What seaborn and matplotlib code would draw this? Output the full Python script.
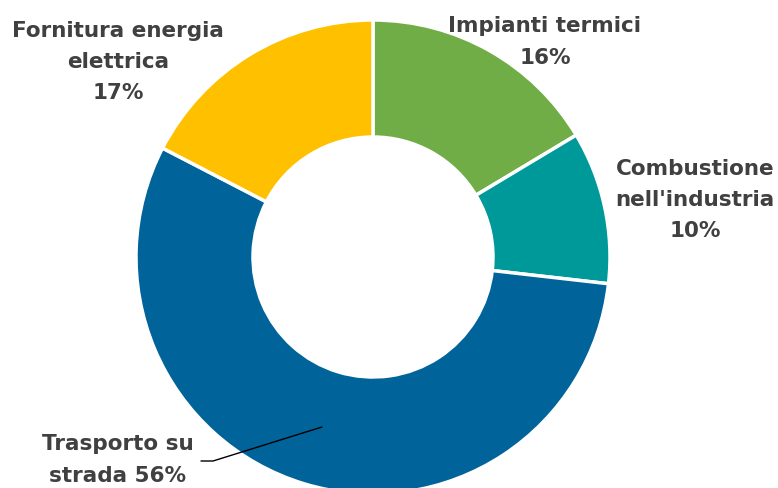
import matplotlib
matplotlib.use("Agg")
import matplotlib.pyplot as plt
import seaborn as sns

# Emission shares by source (percent)
categories = ["Impianti termici", "Combustione\nnell'industria", "Trasporto su\nstrada", "Fornitura energia\nelettrica"]
shares = [16.4, 10.4, 55.8, 17.4]
slice_colors = ["#70AD47", "#00999A", "#00639A", "#FFC000"]

sns.set_theme(style="white")
plt.rcParams["font.family"] = ["DejaVu Sans"]

W, H = 778, 488
fig = plt.figure(figsize=(W / 100, H / 100), dpi=100)
ax = fig.add_axes([0, 0, 1, 1])

cx, cy, R = 373, H - 257, 237
palette = sns.color_palette(slice_colors)
wedges, _ = ax.pie(
    shares, colors=palette, startangle=90, counterclock=False,
    center=(cx, cy), radius=R, frame=True,
    wedgeprops=dict(width=R - 120, edgecolor="white", linewidth=2.5),
)
ax.set_xlim(0, W)
ax.set_ylim(0, H)
ax.set_aspect("equal")
ax.axis("off")

txt = dict(color="#404040", fontsize=15.5, fontweight="bold", ha="center", va="center",
           linespacing=1.7)

def label(i):
    return f"{categories[i]}\n{shares[i]:.0f}%"

ax.text(545, H - 42, label(0), **txt)
ax.text(695, H - 200, label(1), **txt)
ax.text(118, H - 62, label(3), **txt)
ax.text(118, H - 460, f"{categories[2]} {shares[2]:.0f}%", **txt)

# leader line for the road transport slice
ax.plot([322, 213, 201], [H - 427, H - 461, H - 461], color="black", lw=1)

fig.savefig("out.png", dpi=100)
